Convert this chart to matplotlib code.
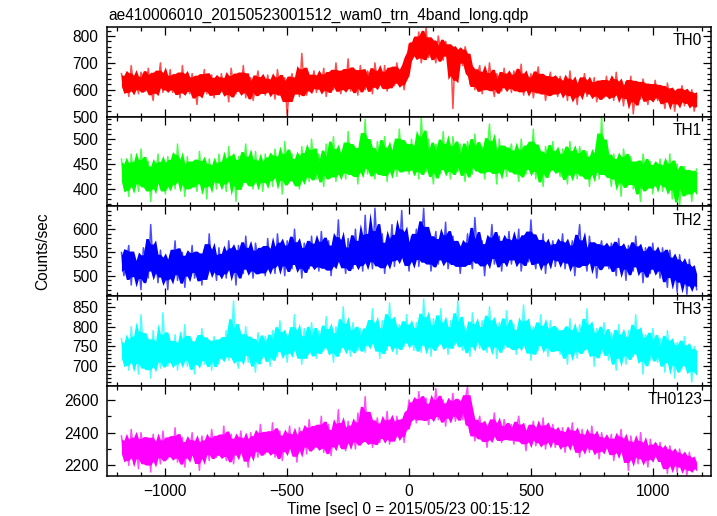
import matplotlib
matplotlib.use("Agg")
import matplotlib.pyplot as plt
from matplotlib.ticker import MultipleLocator
import numpy as np
import pandas as pd

plt.rcParams.update({
    "font.family": ["Liberation Sans", "DejaVu Sans"],
    "font.size": 11.2,
    "axes.linewidth": 1.1,
})

# ── Data ──────────────────────────────────────────────
TITLE = "ae410006010_20150523001512_wam0_trn_4band_long.qdp"
XLABEL = "Time [sec] 0 = 2015/05/23 00:15:12"
YLABEL = "Counts/sec"

band_names = ["TH0", "TH1", "TH2", "TH3", "TH0123"]
band_colors = ["#ff0000", "#00ff00", "#0000ff", "#00ffff", "#ff00ff"]

# 10-s samples from -1180 s to +1180 s, 20 per row
th0_vals = [
    660, 600, 645, 575, 690, 610, 630, 585, 665, 640, 595, 680, 605, 560, 655, 620, 700, 590, 640, 605,
    675, 590, 625, 650, 570, 690, 600, 640, 585, 660, 610, 545, 650, 600, 675, 585, 630, 655, 570, 640,
    590, 660, 600, 635, 555, 680, 615, 585, 650, 600, 690, 570, 625, 645, 560, 610, 670, 590, 635, 580,
    655, 600, 630, 565, 675, 610, 590, 645, 505, 625, 660, 590, 640, 575, 735, 605, 580, 650, 615, 670,
    590, 645, 610, 680, 575, 630, 660, 600, 700, 620, 585, 655, 610, 715, 595, 640, 665, 580, 690, 625,
    600, 670, 640, 585, 700, 625, 655, 610, 690, 595, 645, 680, 615, 700, 630, 660, 600, 690, 770, 720,
    790, 730, 815, 700, 760, 830, 720, 775, 745, 700, 800, 740, 710, 780, 735, 765, 530, 760, 705, 745,
    690, 760, 720, 620, 670, 600, 655, 690, 585, 640, 610, 700, 620, 575, 660, 630, 595, 680, 615, 650,
    590, 670, 625, 600, 695, 580, 640, 610, 660, 570, 630, 685, 600, 645, 560, 620, 665, 590, 640, 575,
    650, 600, 625, 560, 670, 590, 615, 545, 640, 605, 660, 575, 620, 590, 645, 555, 610, 630, 570, 650,
    580, 625, 560, 665, 595, 610, 540, 630, 585, 650, 510, 600, 625, 565, 640, 590, 545, 615, 575, 635,
    560, 610, 580, 530, 625, 570, 595, 520, 600, 565, 615, 540, 590, 555, 600, 520, 575,
]
th1_vals = [
    460, 405, 440, 385, 470, 420, 445, 395, 480, 430, 410, 455, 375, 440, 420, 470, 400, 445, 390, 465,
    415, 455, 400, 490, 425, 440, 385, 465, 410, 450, 430, 395, 475, 420, 445, 380, 460, 425, 440, 400,
    470, 420, 445, 395, 485, 430, 455, 375, 465, 415, 440, 490, 410, 450, 400, 475, 425, 445, 395, 470,
    425, 460, 405, 480, 435, 455, 390, 495, 440, 420, 470, 410, 455, 400, 485, 430, 465, 415, 500, 440,
    420, 470, 445, 405, 490, 450, 430, 505, 415, 465, 440, 480, 420, 515, 455, 435, 475, 410, 495, 450,
    540, 430, 475, 445, 420, 495, 460, 435, 505, 415, 470, 450, 490, 425, 520, 455, 440, 485, 430, 500,
    445, 480, 420, 545, 460, 435, 500, 450, 410, 490, 470, 430, 515, 445, 475, 420, 505, 460, 435, 490,
    450, 415, 495, 470, 430, 510, 455, 440, 485, 420, 475, 530, 445, 465, 410, 500, 450, 480, 425, 470,
    490, 440, 465, 415, 500, 455, 430, 480, 445, 520, 420, 470, 450, 405, 485, 460, 435, 495, 440, 465,
    425, 480, 450, 410, 495, 440, 465, 420, 485, 455, 430, 475, 405, 460, 445, 490, 420, 545, 435, 470,
    445, 405, 470, 430, 455, 385, 480, 440, 415, 465, 400, 450, 425, 375, 470, 435, 410, 455, 390, 445,
    420, 460, 395, 440, 410, 470, 380, 430, 450, 365, 425, 445, 400, 435, 375, 420, 440,
]
th2_vals = [
    550, 500, 530, 565, 480, 545, 510, 525, 470, 560, 535, 495, 610, 520, 540, 485, 555, 505, 530, 470,
    545, 510, 575, 490, 530, 550, 475, 540, 515, 565, 495, 525, 545, 480, 555, 500, 590, 520, 535, 490,
    560, 510, 540, 495, 575, 525, 550, 480, 565, 530, 505, 585, 520, 545, 495, 570, 535, 510, 555, 500,
    580, 525, 545, 505, 590, 535, 560, 500, 575, 540, 515, 600, 530, 555, 495, 570, 545, 515, 585, 525,
    560, 510, 595, 540, 520, 575, 500, 560, 535, 620, 525, 550, 505, 580, 545, 515, 600, 530, 560, 510,
    630, 540, 565, 515, 645, 550, 525, 590, 505, 560, 540, 610, 520, 575, 545, 640, 530, 565, 510, 585,
    545, 600, 520, 565, 645, 535, 580, 510, 560, 595, 525, 570, 540, 615, 515, 555, 585, 530, 570, 505,
    560, 530, 590, 545, 515, 625, 550, 535, 575, 500, 565, 545, 610, 525, 555, 585, 510, 570, 540, 595,
    525, 565, 540, 600, 510, 555, 580, 530, 620, 545, 515, 570, 535, 590, 505, 560, 545, 575, 520, 565,
    540, 590, 515, 560, 535, 575, 500, 555, 610, 530, 545, 510, 585, 540, 565, 495, 550, 575, 525, 560,
    515, 570, 545, 500, 580, 530, 555, 490, 565, 540, 510, 585, 525, 550, 485, 560, 530, 505, 570, 520,
    545, 495, 560, 520, 475, 555, 510, 530, 465, 545, 500, 520, 460, 535, 490, 510, 470,
]
th3_vals = [
    770, 710, 745, 690, 800, 725, 760, 680, 830, 740, 705, 755, 670, 790, 720, 745, 695, 835, 730, 700,
    755, 715, 780, 690, 745, 725, 805, 700, 760, 735, 680, 770, 720, 795, 705, 745, 760, 690, 775, 730,
    705, 765, 730, 790, 715, 750, 865, 725, 695, 770, 740, 800, 710, 760, 735, 685, 785, 745, 720, 775,
    740, 700, 790, 755, 725, 815, 745, 770, 710, 780, 750, 830, 730, 765, 705, 795, 755, 730, 810, 745,
    720, 790, 760, 740, 825, 750, 775, 710, 800, 765, 735, 850, 755, 780, 725, 810, 760, 740, 795, 770,
    735, 800, 765, 845, 750, 785, 720, 815, 770, 740, 860, 760, 795, 730, 805, 775, 750, 830, 765, 790,
    740, 810, 770, 735, 870, 765, 795, 725, 820, 775, 750, 845, 760, 790, 730, 815, 780, 755, 865, 770,
    740, 800, 765, 725, 835, 775, 790, 745, 815, 760, 735, 850, 770, 795, 720, 810, 765, 745, 840, 775,
    750, 805, 730, 785, 760, 855, 745, 790, 715, 800, 770, 740, 830, 760, 785, 725, 815, 765, 745, 795,
    730, 790, 760, 705, 820, 750, 775, 720, 805, 765, 740, 845, 745, 780, 700, 795, 760, 735, 810, 750,
    715, 785, 750, 690, 805, 740, 765, 705, 790, 755, 725, 830, 735, 770, 680, 780, 745, 715, 795, 740,
    710, 770, 735, 685, 790, 725, 750, 670, 760, 720, 695, 775, 705, 740, 660, 750, 715,
]
th0123_vals = [
    2380, 2250, 2320, 2200, 2420, 2280, 2340, 2180, 2400, 2300, 2230, 2360, 2160, 2390, 2270, 2320, 2210, 2410, 2290, 2240,
    2350, 2260, 2430, 2220, 2310, 2370, 2190, 2330, 2280, 2400, 2240, 2320, 2170, 2380, 2290, 2340, 2230, 2420, 2300, 2250,
    2360, 2270, 2440, 2230, 2330, 2390, 2210, 2350, 2300, 2410, 2250, 2340, 2190, 2400, 2310, 2370, 2250, 2450, 2320, 2270,
    2380, 2290, 2460, 2250, 2350, 2410, 2230, 2370, 2320, 2440, 2280, 2360, 2220, 2430, 2340, 2400, 2270, 2480, 2350, 2300,
    2420, 2320, 2500, 2280, 2380, 2450, 2260, 2400, 2350, 2540, 2310, 2410, 2290, 2470, 2370, 2430, 2300, 2520, 2390, 2340,
    2620, 2350, 2470, 2310, 2420, 2490, 2340, 2440, 2380, 2530, 2330, 2450, 2360, 2500, 2400, 2470, 2340, 2480, 2600, 2500,
    2580, 2460, 2650, 2490, 2540, 2610, 2450, 2560, 2510, 2670, 2480, 2550, 2600, 2440, 2570, 2520, 2640, 2470, 2550, 2590,
    2480, 2600, 2680, 2400, 2470, 2350, 2440, 2500, 2370, 2430, 2310, 2460, 2390, 2520, 2360, 2420, 2340, 2480, 2400, 2370,
    2450, 2330, 2420, 2500, 2360, 2400, 2290, 2440, 2380, 2470, 2320, 2410, 2350, 2490, 2300, 2420, 2370, 2450, 2310, 2400,
    2340, 2430, 2280, 2390, 2350, 2460, 2300, 2380, 2250, 2420, 2330, 2370, 2280, 2440, 2310, 2360, 2240, 2400, 2320, 2350,
    2290, 2390, 2230, 2350, 2310, 2420, 2250, 2330, 2170, 2380, 2280, 2320, 2210, 2400, 2260, 2300, 2190, 2360, 2270, 2310,
    2240, 2340, 2200, 2290, 2150, 2320, 2230, 2270, 2160, 2300, 2210, 2250, 2140, 2280, 2190, 2230, 2170,
]

series = [th0_vals, th1_vals, th2_vals, th3_vals, th0123_vals]

# axis settings per panel
y_limits = [(500, 834), (365, 545), (456, 649), (650, 877), (2137, 2685)]
y_minor = [20, 10, 10, 10, 100]
y_ticks = [[500, 600, 700, 800], [400, 450, 500], [500, 550, 600],
           [700, 750, 800, 850], [2200, 2400, 2600]]

# ── Figure ─────────────────────────────────────────────
fig, axes = plt.subplots(5, 1, figsize=(7.17, 5.16), dpi=100, sharex=True)
fig.subplots_adjust(left=0.149, right=0.992, top=0.948, bottom=0.078, hspace=0)

for ax, name, col, vals, ylim, ymin, yt in zip(
        axes, band_names, band_colors, series, y_limits, y_minor, y_ticks):
    t = np.linspace(-1180, 1180, len(vals))
    s = pd.Series(vals, dtype=float)
    # dense middle of the light curve: running inner quantiles of the samples
    lo = s.rolling(5, center=True, min_periods=1).quantile(0.15)
    hi = s.rolling(5, center=True, min_periods=1).quantile(0.85)
    ax.fill_between(t, lo, hi, color=col, linewidth=0)
    ax.plot(t, vals, color=col, linewidth=1.1, alpha=0.7)
    ax.set_ylim(*ylim)
    ax.set_yticks(yt)
    ax.yaxis.set_minor_locator(MultipleLocator(ymin))
    ax.text(0.985, 0.93, name, transform=ax.transAxes,
            ha="right", va="top")
    ax.tick_params(which="both", direction="in", top=True, right=True,
                   width=0.9, pad=6)
    ax.tick_params(which="major", length=6)
    ax.tick_params(which="minor", length=3)

axes[-1].set_xlim(-1240, 1240)
axes[-1].xaxis.set_minor_locator(MultipleLocator(100))
axes[-1].set_xticks([-1000, -500, 0, 500, 1000])
axes[-1].set_xticklabels(["\u22121000", "\u2212500", "0", "500", "1000"])
axes[-1].set_xlabel(XLABEL, labelpad=2)

fig.text(0.06, 0.513, YLABEL, rotation=90, ha="center", va="center")
fig.text(0.151, 0.985, TITLE, ha="left", va="top")

fig.savefig("out.png", dpi=100)
plt.close(fig)
